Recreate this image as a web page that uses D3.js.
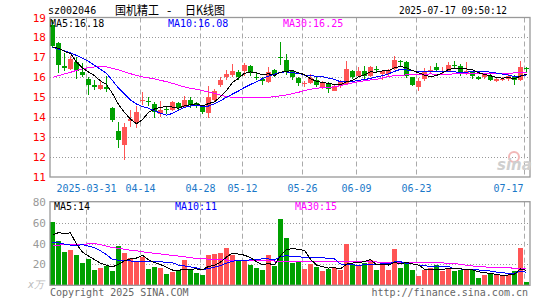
<!DOCTYPE html>
<html>
<head>
<meta charset="utf-8">
<script src="https://cdn.jsdelivr.net/npm/d3@7"></script>
<style>
  body { margin: 0; background: #fff; }
  svg { display: block; }
  text { font-family: "DejaVu Sans Mono", monospace; font-size: 10px; }
</style>
</head>
<body>
<div id="chart"></div>
<script>
// trading days shown (2025)
const dates = ["03-21","03-24","03-25","03-26","03-27","03-28","03-31",
  "04-01","04-02","04-03","04-07","04-08","04-09","04-10","04-11","04-14","04-15","04-16","04-17","04-18",
  "04-21","04-22","04-23","04-24","04-25","04-28","04-29","04-30",
  "05-06","05-07","05-08","05-09","05-12","05-13","05-14","05-15","05-16","05-19","05-20","05-21","05-22","05-23",
  "05-26","05-27","05-28","05-29","05-30",
  "06-03","06-04","06-05","06-06","06-09","06-10","06-11","06-12","06-13","06-16","06-17","06-18","06-19","06-20",
  "06-23","06-24","06-25","06-26","06-27","06-30",
  "07-01","07-02","07-03","07-04","07-07","07-08","07-09","07-10","07-11","07-14","07-15","07-16","07-17"];

const opens = [18.63,17.7,16.55,16.42,16.78,16.25,15.9,15.6,15.4,15.52,
  14.45,13.3,12.6,13.82,13.7,14.8,14.8,14.67,14.17,14.4,
  14.37,14.7,14.53,14.88,14.7,14.5,14.2,14.87,15.62,16.0,
  16.1,16.25,16.3,16.58,16.02,15.92,15.75,16.38,17.02,16.88,
  16.33,15.97,15.7,15.7,15.87,15.47,15.67,15.33,15.57,15.67,
  16.3,16.08,16.33,16.08,16.4,16.17,16.18,16.42,16.8,16.78,
  16.0,15.5,15.92,16.35,16.5,16.25,16.33,16.63,16.58,16.2,
  16.25,16.03,16.0,16.08,15.83,15.85,15.92,16.05,15.88,16.47];
const highs = [18.85,17.75,17.2,17.08,17.0,16.7,16.0,15.85,15.8,16.05,
  14.5,13.75,13.7,14.37,14.55,15.28,15.0,14.75,14.83,14.55,
  14.8,14.75,15.08,15.0,14.75,14.58,15.58,15.42,16.0,16.37,
  16.67,16.37,16.72,16.62,16.2,16.0,16.53,16.42,17.78,17.17,
  16.38,16.03,15.83,16.17,16.0,15.83,15.75,15.62,15.85,16.83,
  16.37,16.53,16.58,16.58,16.58,16.37,16.4,17.08,16.88,16.83,
  16.03,15.95,16.47,16.58,16.7,16.53,16.75,16.83,16.67,16.78,
  16.3,16.08,16.22,16.17,16.0,16.0,16.17,16.1,16.8,16.5];
const lows = [17.5,16.2,16.3,16.38,15.9,16.0,15.1,15.35,15.35,15.25,
  13.78,12.45,11.85,13.5,13.45,14.6,14.55,13.97,14.03,14.15,
  14.33,14.33,14.5,14.47,14.47,14.17,13.97,14.83,15.5,15.87,
  16.0,15.87,16.08,16.08,15.87,15.62,15.7,16.0,16.62,16.13,
  15.88,15.58,15.53,15.67,15.53,15.42,15.2,15.3,15.47,15.6,
  15.92,16.03,15.8,16.0,16.25,15.87,16.08,16.37,16.58,15.97,
  15.58,15.33,15.83,16.2,16.3,16.17,16.25,16.47,16.08,16.13,
  15.92,15.87,15.92,15.83,15.75,15.8,15.83,15.63,15.83,16.25];
const closes = [17.55,16.62,16.45,16.9,16.3,16.1,15.6,15.5,15.6,15.4,
  13.85,12.85,13.5,13.9,14.25,14.85,14.77,14.27,14.38,14.37,
  14.75,14.48,14.87,14.63,14.6,14.25,15.03,15.33,15.88,16.17,
  16.33,16.03,16.6,16.2,16.0,15.8,16.28,16.17,17.0,16.25,
  16.0,15.7,15.73,15.95,15.62,15.72,15.43,15.55,15.78,16.4,
  16.03,16.33,16.05,16.53,16.37,16.33,16.35,16.87,16.78,16.05,
  15.63,15.83,16.25,16.38,16.35,16.33,16.63,16.6,16.2,16.33,
  16.08,15.92,16.17,15.88,15.92,15.9,16.08,15.88,16.5,16.45];

const ma5 = [17.53,17.45,17.3,17.2,16.76,16.47,16.27,16.08,15.82,15.64,
  15.19,14.64,14.24,13.9,13.67,13.87,14.25,14.41,14.5,14.53,
  14.51,14.45,14.57,14.62,14.67,14.57,14.68,14.77,15.02,15.33,
  15.75,15.95,16.2,16.27,16.23,16.13,16.18,16.09,16.25,16.3,
  16.34,16.22,16.14,15.93,15.8,15.74,15.69,15.65,15.62,15.78,
  15.84,16.02,16.12,16.27,16.26,16.32,16.33,16.49,16.54,16.48,
  16.34,16.23,16.11,16.03,16.09,16.23,16.39,16.46,16.42,16.42,
  16.37,16.23,16.14,16.08,15.99,15.96,15.99,15.93,16.06,16.16];
const ma10 = [17.5,17.42,17.33,17.22,17.1,16.95,16.8,16.6,16.4,16.2,
  15.83,15.46,15.16,14.86,14.66,14.53,14.45,14.32,14.2,14.1,
  14.19,14.35,14.49,14.56,14.6,14.54,14.56,14.67,14.82,15.0,
  15.16,15.31,15.49,15.64,15.78,15.94,16.06,16.15,16.26,16.27,
  16.23,16.2,16.11,16.09,16.05,16.04,15.96,15.9,15.77,15.79,
  15.79,15.85,15.89,15.94,16.02,16.08,16.17,16.3,16.4,16.37,
  16.33,16.28,16.3,16.28,16.28,16.28,16.31,16.28,16.23,16.25,
  16.3,16.31,16.3,16.25,16.21,16.16,16.11,16.04,16.07,16.08];
const ma30 = [16.0,16.08,16.17,16.25,16.35,16.42,16.48,16.52,16.53,16.52,
  16.45,16.38,16.28,16.18,16.1,16.02,15.97,15.92,15.85,15.78,
  15.7,15.6,15.52,15.45,15.4,15.33,15.27,15.2,15.1,15.03,
  15.0,15.0,14.98,14.98,14.97,14.97,15.0,15.03,15.07,15.12,
  15.18,15.25,15.33,15.4,15.45,15.48,15.5,15.52,15.58,15.65,
  15.72,15.78,15.83,15.87,15.9,15.97,16.05,16.08,16.1,16.12,
  16.13,16.15,16.15,16.17,16.15,16.15,16.16,16.17,16.17,16.17,
  16.17,16.17,16.17,16.18,16.18,16.19,16.2,16.22,16.23,16.25];

// volume, 万手
const volumes = [60.7,42.2,32,33.5,28.8,21.4,24.9,14.4,16.6,18.5,
  13.7,37.4,31,26.2,22.4,27.2,15.3,17.6,16.6,10.5,
  12.8,13.7,24,16,11.8,9.6,28.8,29.7,31,35.8,
  28.8,24,24.6,19.2,16.9,14.4,28.8,18.2,63.3,45.4,
  21.4,22.4,15.3,20.1,17.6,13.4,16,16.9,15,39.6,
  19.2,18.2,21.4,24.6,14.4,22.4,14.4,34.5,16.9,22.4,
  14.4,8.6,15,16.9,19.8,13.7,16.9,13.7,15,14.4,
  14.4,7,9.6,11.2,9.6,9.6,9.6,13.7,35.8,3.2];
const volMa5 = [48,50.5,49.5,50.2,39.4,31.6,28.1,24.6,21.2,19.2,
  17.6,20.1,23.4,25.4,26.1,28.8,24.4,21.7,19.8,17.4,
  14.6,14.2,15.5,15.4,15.7,15.0,18.0,19.2,22.2,27.0,
  30.8,29.9,28.8,26.5,22.7,19.8,20.8,19.5,28.3,34.0,
  35.4,34.1,33.6,24.9,19.4,17.8,16.5,16.8,15.8,20.2,
  21.3,21.8,22.7,24.6,19.6,20.2,19.4,22.1,20.5,22.1,
  20.5,19.4,15.5,15.5,14.9,14.8,16.5,16.2,15.8,14.7,
  14.9,12.9,12.1,11.3,10.4,9.4,9.9,10.7,15.7,14.4];
const volMa10 = [41,40.5,39.5,38.5,38,39,37.5,36,33,29.3,
  24.6,24.1,24.0,23.3,22.7,23.2,22.3,22.6,22.6,21.8,
  21.7,19.3,18.6,17.6,16.6,14.8,16.1,17.4,18.8,21.3,
  22.9,24.0,24.0,24.3,24.8,25.3,25.3,24.2,27.4,28.4,
  27.6,27.5,26.5,26.6,26.7,26.6,25.3,25.2,20.4,19.8,
  19.6,19.1,19.7,20.2,19.9,20.8,20.6,22.4,22.6,20.8,
  20.4,19.4,18.8,18.0,18.5,17.7,17.9,15.8,15.6,14.8,
  14.8,14.7,14.1,13.6,12.6,12.1,11.4,11.4,13.5,12.4];
const volMa30 = [38.3,38.5,38.7,38.9,39.1,39.3,39.6,40,39,37.5,
  36,35.5,34.5,33.6,33,32,31.3,30.6,30,29.3,
  28.6,28,27.3,26.4,25.7,25.4,25.1,24.8,24.5,24.2,
  24,24,24,24,24,23.8,23.5,23.2,23,22.8,
  22.6,22.5,22.4,22.4,22.4,22.4,22.4,22.4,22.4,22.4,
  22.4,22.4,22.4,22.4,22.3,22.2,22.1,22,22,21.9,
  21.9,21.8,21.8,21.8,21.7,21.4,21.1,20.8,20,19.2,
  18.5,18,17.6,17.3,17.1,16.9,16.7,16.4,16.2,16];

const tickDates = ["03-31","04-14","04-28","05-12","05-26","06-09","06-23","07-17"];
const tickLabels = ["2025-03-31","04-14","04-28","05-12","05-26","06-09","06-23","07-17"];
const priceTicks = [11,12,13,14,15,16,17,18,19];
const volTicks = [20,40,60,80];

const width = 545, height = 300;
const left = 50, right = 530;
const pTop = 17.5, pBottom = 177;
const vTop = 201.7, vBottom = 285.3;
const up = "#ff5555", down = "#00a000";

const svg = d3.select("#chart").append("svg")
  .attr("width", width).attr("height", height);

const x = d3.scaleBand().domain(dates).range([left, right]).padding(0);
const bw = 5;
const cx = (d) => x(d) + bw / 2;

const yP = d3.scaleLinear().domain([11, 19]).range([pBottom, pTop]);
const yV = d3.scaleLinear().domain([0, 80]).range([vBottom, vTop]);

const candles = dates.map((d, i) => ({
  date: d, open: opens[i], high: highs[i], low: lows[i], close: closes[i], vol: volumes[i]
}));
const colorOf = (d) => (d.close >= d.open ? up : down);

// grid
function hGrid(scale, values) {
  svg.append("g").selectAll("line").data(values).enter().append("line")
    .attr("x1", left).attr("x2", right)
    .attr("y1", (v) => Math.round(scale(v)) + 0.5).attr("y2", (v) => Math.round(scale(v)) + 0.5)
    .attr("stroke", "#999").attr("stroke-dasharray", "1,2");
}
hGrid(yP, [12, 13, 14, 15, 16, 17, 18]);
hGrid(yV, [20, 40, 60]);

[[pTop, pBottom], [vTop, vBottom]].forEach(([t, b]) => {
  svg.append("g").selectAll("line").data(tickDates).enter().append("line")
    .attr("x1", (d) => Math.round(x(d)) + 0.5).attr("x2", (d) => Math.round(x(d)) + 0.5)
    .attr("y1", t).attr("y2", b)
    .attr("stroke", "#aaa").attr("stroke-dasharray", "5,3");
});

// candles
const cg = svg.append("g").attr("shape-rendering", "crispEdges");
cg.selectAll("line.wick").data(candles).enter().append("line")
  .attr("class", "wick")
  .attr("x1", (d) => Math.floor(cx(d.date)) + 0.5).attr("x2", (d) => Math.floor(cx(d.date)) + 0.5)
  .attr("y1", (d) => yP(d.high)).attr("y2", (d) => yP(d.low))
  .attr("stroke", colorOf);
cg.selectAll("rect.body").data(candles).enter().append("rect")
  .attr("class", "body")
  .attr("x", (d) => x(d.date))
  .attr("width", bw)
  .attr("y", (d) => yP(Math.max(d.open, d.close)))
  .attr("height", (d) => Math.max(1, Math.abs(yP(d.open) - yP(d.close))))
  .attr("fill", colorOf);

// volume bars
cg.selectAll("rect.vol").data(candles).enter().append("rect")
  .attr("class", "vol")
  .attr("x", (d) => x(d.date))
  .attr("width", bw)
  .attr("y", (d) => yV(d.vol))
  .attr("height", (d) => yV(0) - yV(d.vol))
  .attr("fill", colorOf);

// moving averages
function maLine(values, scale, color) {
  const line = d3.line().x((v, i) => cx(dates[i])).y((v) => scale(v));
  svg.append("path").datum(values)
    .attr("d", line).attr("fill", "none")
    .attr("stroke", color).attr("stroke-width", 1)
    .attr("shape-rendering", "crispEdges");
}
maLine(ma30, yP, "#ff00ff");
maLine(ma10, yP, "#0000ff");
maLine(ma5, yP, "#000");
maLine(volMa30, yV, "#ff00ff");
maLine(volMa10, yV, "#0000ff");
maLine(volMa5, yV, "#000");

// frames
[[pTop, pBottom], [vTop, vBottom]].forEach(([t, b]) => {
  svg.append("rect").attr("x", left).attr("y", t)
    .attr("width", right - left).attr("height", b - t)
    .attr("fill", "none").attr("stroke", "#999").attr("stroke-width", 1.3);
});

// axes
const yAxisP = svg.append("g").attr("transform", `translate(${left},0)`)
  .call(d3.axisLeft(yP).tickValues(priceTicks).tickSize(0).tickPadding(4).tickFormat(d3.format("d")));
yAxisP.select(".domain").remove();
yAxisP.selectAll("text").attr("fill", "#f00").style("font-size", "11px");

const yAxisV = svg.append("g").attr("transform", `translate(${left},0)`)
  .call(d3.axisLeft(yV).tickValues(volTicks).tickSize(0).tickPadding(4).tickFormat(d3.format("d")));
yAxisV.select(".domain").remove();
yAxisV.selectAll("text").attr("fill", "#999").style("font-size", "11px");

const xAxis = svg.append("g").attr("transform", `translate(${-bw / 2},${pBottom + 2})`)
  .call(d3.axisBottom(x).tickValues(tickDates).tickSize(0).tickPadding(6)
    .tickFormat((d, i) => tickLabels[i]));
xAxis.select(".domain").remove();
xAxis.selectAll("text").attr("fill", "#1a78c8").style("font-size", "10px");
// last label sits left of its line so it stays inside the frame
xAxis.selectAll("text").filter((d) => d === "07-17").attr("text-anchor", "end").attr("dx", "-1");

// header
svg.append("text").attr("x", 48).attr("y", 14).text("sz002046");
const titleFont = (t) => t.style("font-family", "'Noto Sans CJK SC', sans-serif").style("font-size", "12.5px");
svg.append("text").attr("x", 115).attr("y", 14.5).call(titleFont)
  .attr("textLength", 44).attr("lengthAdjust", "spacingAndGlyphs").text("国机精工");
svg.append("text").attr("x", 167).attr("y", 14.5).call(titleFont).text("-");
svg.append("text").attr("x", 185).attr("y", 14.5).call(titleFont)
  .attr("textLength", 40).attr("lengthAdjust", "spacingAndGlyphs").text("日K线图");
svg.append("text").attr("x", 399).attr("y", 14)
  .attr("textLength", 108).attr("lengthAdjust", "spacingAndGlyphs")
  .text("2025-07-17 09:50:12");

// MA labels
svg.append("text").attr("x", 50).attr("y", 27).attr("fill", "#000").text("MA5:16.18");
svg.append("text").attr("x", 168).attr("y", 27).attr("fill", "#0000ff").text("MA10:16.08");
svg.append("text").attr("x", 283).attr("y", 27).attr("fill", "#ff00ff").text("MA30:16.25");
svg.append("text").attr("x", 54).attr("y", 210).attr("fill", "#000").text("MA5:14");
svg.append("text").attr("x", 175).attr("y", 210).attr("fill", "#0000ff").text("MA10:11");
svg.append("text").attr("x", 295).attr("y", 210).attr("fill", "#ff00ff").text("MA30:15");

// footer
svg.append("text").attr("x", 28).attr("y", 288).attr("fill", "#bbb")
  .style("font-style", "italic").text("x万");
svg.append("text").attr("x", 50).attr("y", 296).attr("fill", "#666").text("Copyright 2025 SINA.COM");
svg.append("text").attr("x", 528).attr("y", 296).attr("fill", "#666")
  .attr("text-anchor", "end").text("http://finance.sina.com.cn");

// watermark
svg.append("circle").attr("cx", 514).attr("cy", 157).attr("r", 5)
  .attr("fill", "none").attr("stroke", "#f2b8b8").attr("stroke-width", 2);
svg.append("text").attr("x", 497).attr("y", 170)
  .style("font-family", "'DejaVu Sans', sans-serif").style("font-size", "15px")
  .style("font-style", "italic").style("font-weight", "bold")
  .attr("fill", "#cfcfcf").text("sina");
</script>
</body>
</html>
